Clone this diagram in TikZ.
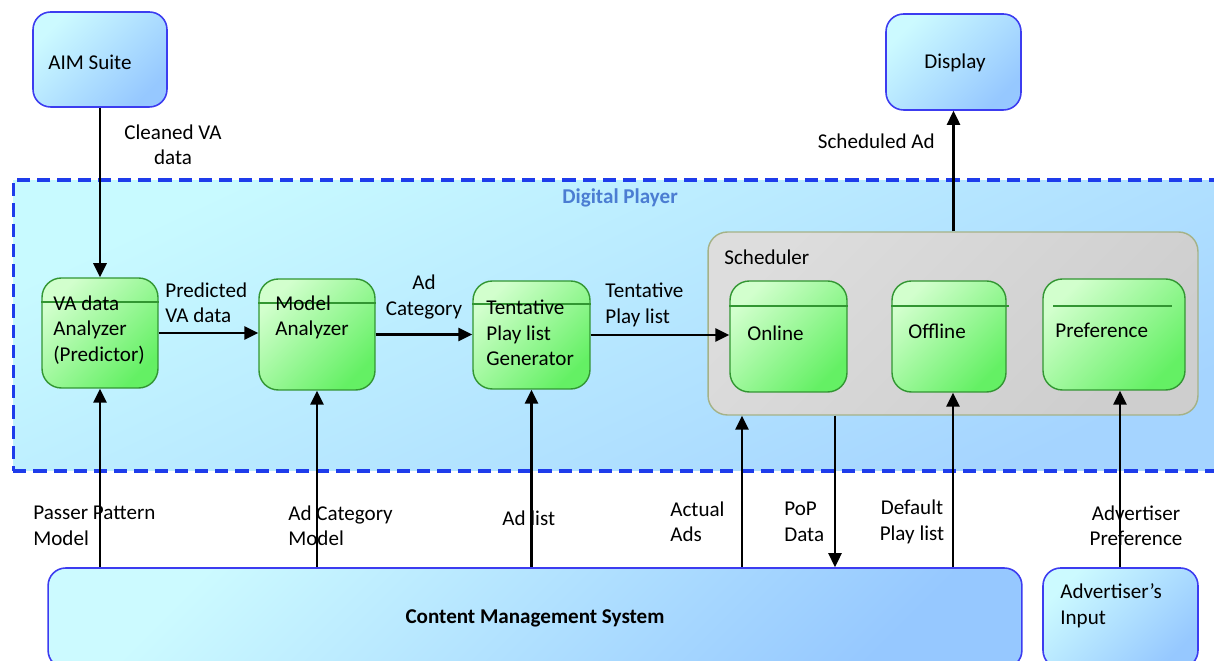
\documentclass[tikz,border=0pt]{standalone}
\usepackage{fontspec}
\setmainfont{Carlito}
\usepackage{tikz}
\usetikzlibrary{positioning,arrows.meta,calc}
\definecolor{extline}{RGB}{60,60,240}
\definecolor{extA}{RGB}{204,250,255}
\definecolor{extB}{RGB}{150,200,255}
\definecolor{playA}{RGB}{200,250,255}
\definecolor{playB}{RGB}{165,212,255}
\definecolor{playline}{RGB}{30,60,235}
\definecolor{procA}{RGB}{210,255,205}
\definecolor{procB}{RGB}{100,240,100}
\definecolor{procline}{RGB}{50,150,50}
\definecolor{schedfill}{RGB}{212,212,212}
\definecolor{schedline}{RGB}{165,178,135}
\definecolor{playtext}{RGB}{75,125,210}

\tikzset{
  ext/.style={draw=extline, line width=0.9pt, rounded corners=10pt,
    top color=extA, bottom color=extB, shading angle=45, inner sep=0pt},
  proc/.style={draw=procline, line width=0.8pt, rounded corners=11pt,
    top color=procA, bottom color=procB, shading angle=45, inner sep=0pt},
  sep/.style={draw=procline, line width=0.8pt},
  txt/.style={font=\fontsize{12}{14.5}\selectfont, align=left, inner sep=0pt},
  flow/.style={-{Triangle[length=8pt,width=7.5pt]}, line width=1.2pt},
}

\begin{document}
\begin{tikzpicture}[x=0.02cm, y=-0.02cm]
\useasboundingbox (0,0) rectangle (1214,661);
\clip (0,0) rectangle (1214,661);
% Digital Player
\node[draw=playline, line width=1.8pt, dash pattern=on 7.5pt off 4pt,
  top color=playA, bottom color=playB, shading angle=25,
  minimum width=24.34cm, minimum height=5.82cm, inner sep=0pt] (player) at (621.5,325.5) {};
\node[txt, font=\fontsize{12}{14.5}\selectfont\bfseries, text=playtext] (tplayer) at (620,198) {Digital Player};

% outside boxes
\node[ext, minimum width=2.68cm, minimum height=1.9cm] (aim) at (100,59.5) {};
\node[txt, anchor=west] (taim) at (48,62) {AIM Suite};
\node[ext, minimum width=2.7cm, minimum height=1.92cm] (display) at (953.5,62) {};
\node[txt, anchor=west] (tdisplay) at (924,63) {Display};
\node[ext, minimum width=19.48cm, minimum height=2cm] (cms) at (535,618) {};
\node[txt, font=\fontsize{12}{14.5}\selectfont\bfseries] (tcms) at (535,618) {Content Management System};
\node[ext, minimum width=3.1cm, minimum height=2cm] (adv) at (1120.5,618) {};
\node[txt, anchor=west] (tadv) at (1060,606) {Advertiser’s\\Input};

% Scheduler
\node[draw=schedline, line width=0.8pt, rounded corners=11pt,
  top color=schedfill!80!white, bottom color=schedfill!97!black, shading angle=45,
  minimum width=9.8cm, minimum height=3.66cm, inner sep=0pt] (sched) at (953,323.5) {};
\node[txt, anchor=west] (tsched) at (724,257) {Scheduler};

% processes
\node[proc, minimum width=2.32cm, minimum height=2.2cm] (va) at (100,333) {};
\draw[sep] (va.west |- 0,302) -- (va.east |- 0,302);
\node[txt, anchor=west] (tva) at (53,330) {VA data\\Analyzer\\(Predictor)};
\node[proc, minimum width=2.32cm, minimum height=2.22cm] (model) at (317,334.5) {};
\draw[sep] (model.west |- 0,303) -- (model.east |- 0,303);
\node[txt, anchor=west] (tmodel) at (275,317.5) {Model\\Analyzer};
\node[proc, minimum width=2.34cm, minimum height=2.16cm] (tent) at (531.5,335) {};
\draw[sep] (tent.west |- 0,304) -- (tent.east |- 0,304);
\node[txt, anchor=west] (ttent) at (486,333) {Tentative\\Play list\\Generator};
\node[proc, minimum width=2.34cm, minimum height=2.22cm] (online) at (788.5,336.5) {};
\draw[sep] (online.west |- 0,306) -- (online.east |- 0,306);
\node[txt, anchor=west] (tonline) at (747,333) {Online};
\node[proc, minimum width=2.28cm, minimum height=2.22cm] (offline) at (949,336.5) {};
\draw[sep] (offline.west |- 0,306) -- ($(offline.east |- 0,306)+(2,0)$);
\node[txt, anchor=west] (toffline) at (908,331) {Offline};
\node[proc, minimum width=2.84cm, minimum height=2.22cm] (pref) at (1114,334.5) {};
\draw[sep] (1053,306) -- (1172,306);
\node[txt, anchor=west] (tpref) at (1055,330) {Preference};

% flows
\coordinate (actx) at (742,0);
\coordinate (popx) at (835,0);
\coordinate (dflx) at (953,0);
\coordinate (advx) at (1120,0);
\draw[flow] (aim) -- (va);
\node[txt, align=center] (lclean) at (173,145) {Cleaned VA\\data};
\draw[flow] (va.east) -- (va.east -| model.west);
\node[txt, anchor=west] (lpred) at (165,303) {Predicted\\VA data};
\draw[flow] (model.east) -- (model.east -| tent.west);
\node[txt, align=center] (lcat) at (424,297) {Ad\\Category};
\draw[flow] (tent.east) -- (tent.east -| online.west);
\node[txt, anchor=west] (ltent) at (605,305) {Tentative\\Play list};
\draw[flow] (sched.north -| display) -- (display.south);
\node[txt, anchor=east] (lsched) at (935,141) {Scheduled Ad};
\draw[flow] (cms.north -| va) -- (va.south);
\node[txt, anchor=west] (lpasser) at (33,526) {Passer Pattern\\Model};
\draw[flow] (cms.north -| model) -- (model.south);
\node[txt, anchor=west] (lcatmod) at (288,526) {Ad Category\\Model};
\draw[flow] (cms.north -| tent) -- (tent.south);
\node[txt, anchor=west] (ladlist) at (502,518) {Ad list};
\draw[flow] (cms.north -| actx) -- (sched.south -| actx);
\node[txt, anchor=west] (lactual) at (670,522) {Actual\\Ads};
\draw[flow] (sched.south -| popx) -- (cms.north -| popx);
\node[txt, anchor=west] (lpop) at (784,522) {PoP\\Data};
\draw[flow] (cms.north -| dflx) -- (offline.south -| dflx);
\node[txt, align=center] (ldefault) at (912,522) {Default\\Play list};
\draw[flow] (adv.north -| advx) -- (pref.south -| advx);
\node[txt, align=center] (ladv) at (1136,526) {Advertiser\\Preference};
\end{tikzpicture}
\end{document}
